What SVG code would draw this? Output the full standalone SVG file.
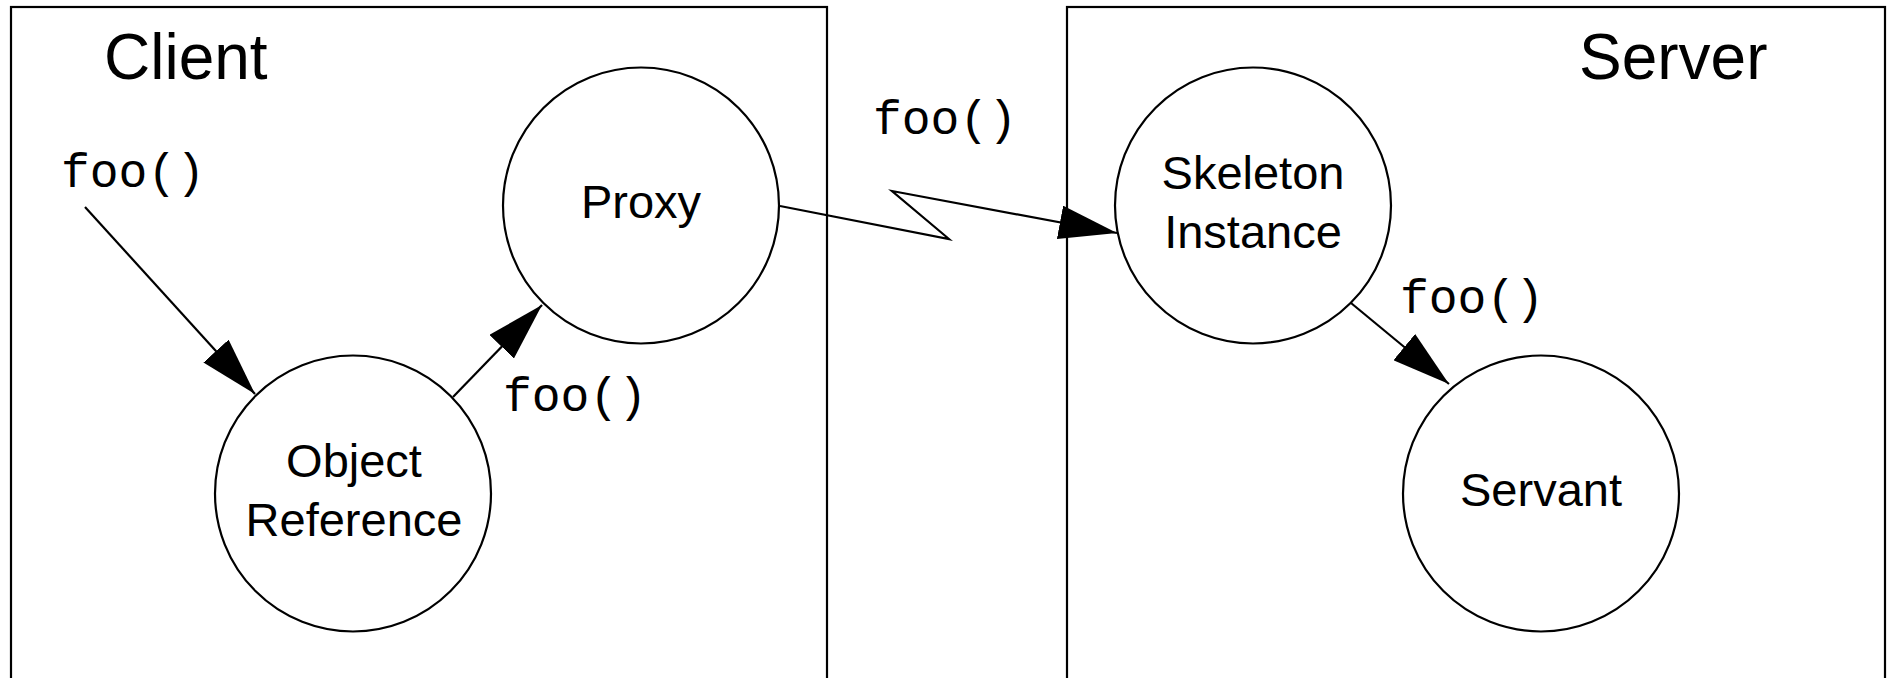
<svg xmlns="http://www.w3.org/2000/svg" width="1887" height="678" viewBox="0 0 1887 678">
<style>
.box{fill:none;stroke:#000;stroke-width:2.2}
.node{fill:#fff;stroke:#000;stroke-width:2.2}
.lbl{font-family:"Liberation Sans",Arial,sans-serif;font-size:47px;text-anchor:middle;fill:#000}
.title{font-family:"Liberation Sans",Arial,sans-serif;font-size:64px;fill:#000}
.code{font-family:"Liberation Mono","Courier New",monospace;font-size:48px;fill:#000}
.edge{fill:none;stroke:#000;stroke-width:2.2;marker-end:url(#arrow)}
</style>
<defs>
<marker id="arrow" viewBox="0 0 58 34" refX="58" refY="17" markerWidth="58" markerHeight="34" markerUnits="userSpaceOnUse" orient="auto">
<path d="M0,0 L58,17 L0,34 z" fill="#000"/>
</marker>
</defs>
<rect width="1887" height="678" fill="#fff"/>
<g id="client">
<rect class="box" x="11" y="7" width="816" height="700"/>
<text class="title" x="104" y="79">Client</text>
</g>
<g id="server">
<rect class="box" x="1067" y="7" width="818" height="700"/>
<text class="title" x="1579" y="79">Server</text>
</g>
<g id="connectors">
<line class="edge" x1="85" y1="207" x2="255" y2="394"/>
<line class="edge" x1="453" y1="397" x2="542" y2="305"/>
<polyline class="edge" points="780,206 949,239 892,191 1117,233"/>
<line class="edge" x1="1351" y1="303" x2="1449" y2="384"/>
<text class="code" x="61" y="187">foo()</text>
<text class="code" x="503" y="411">foo()</text>
<text class="code" x="873" y="134">foo()</text>
<text class="code" x="1400" y="313">foo()</text>
</g>
<g id="proxy">
<circle class="node" cx="641" cy="205.5" r="138"/>
<text class="lbl" x="641" y="218">Proxy</text>
</g>
<g id="objref">
<circle class="node" cx="353" cy="493.5" r="138"/>
<text class="lbl" x="354" y="477">Object</text>
<text class="lbl" x="354" y="536">Reference</text>
</g>
<g id="skeleton">
<circle class="node" cx="1253" cy="205.5" r="138"/>
<text class="lbl" x="1253" y="189">Skeleton</text>
<text class="lbl" x="1253" y="248">Instance</text>
</g>
<g id="servant">
<circle class="node" cx="1541" cy="493.5" r="138"/>
<text class="lbl" x="1541" y="506">Servant</text>
</g>
</svg>
